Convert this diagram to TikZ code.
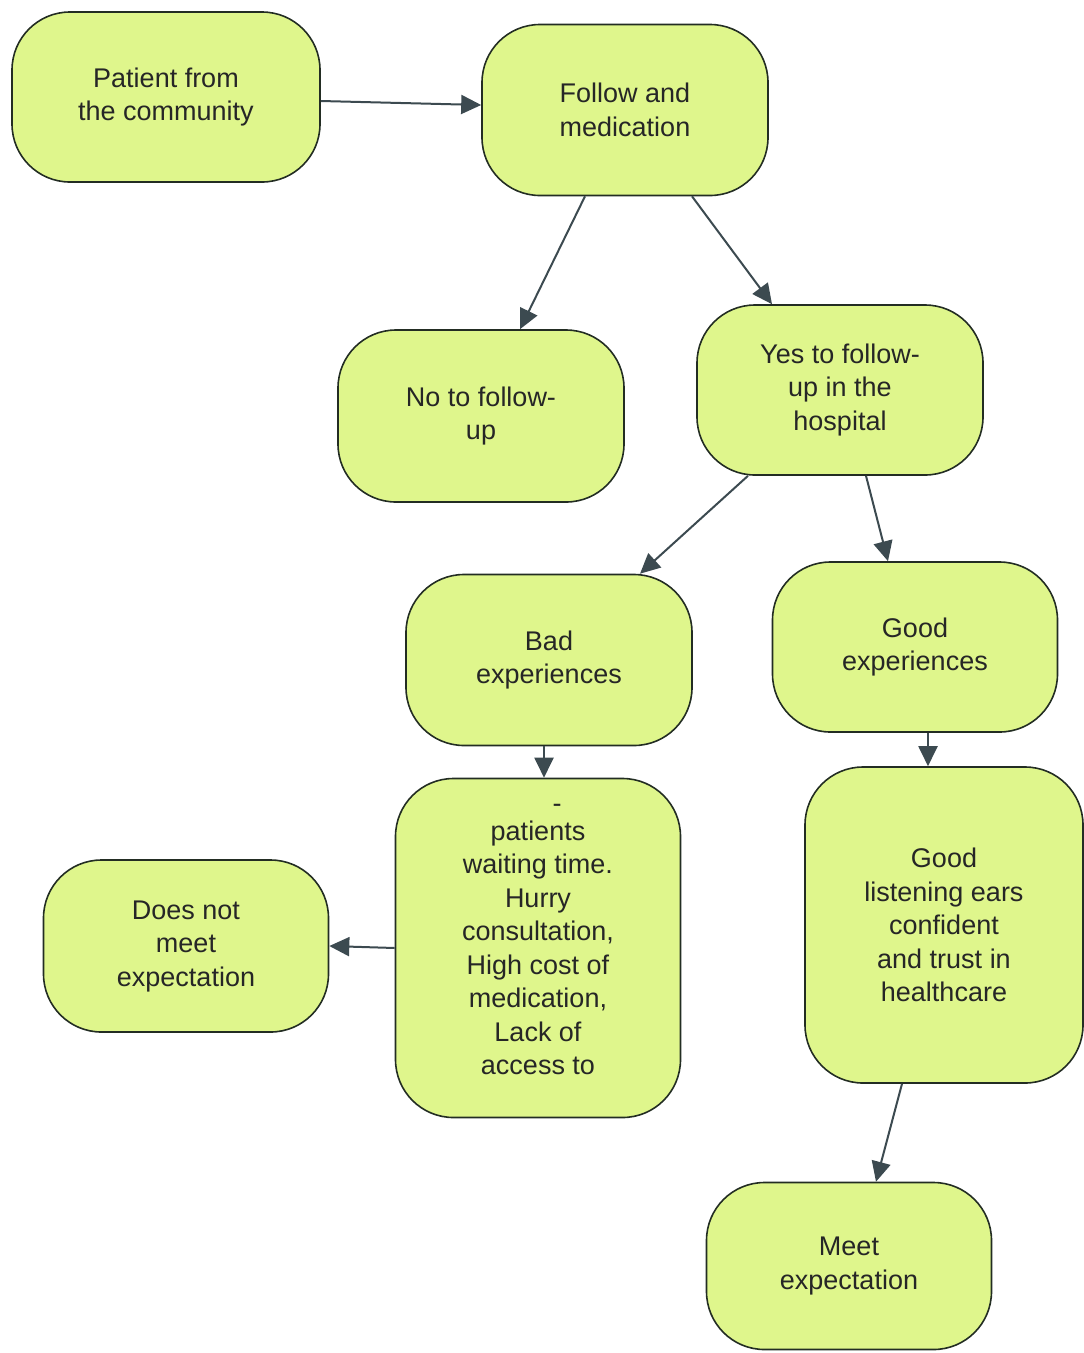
\documentclass[tikz,border=0pt]{standalone}
\usepackage{fontspec}
\setmainfont{Liberation Sans}
\usepackage{tikz}
\usetikzlibrary{arrows.meta}
\usepackage{xcolor}
\definecolor{boxfill}{RGB}{223,246,140}
\definecolor{boxline}{RGB}{35,45,35}
\definecolor{arrowgray}{RGB}{60,74,80}

\begin{document}
\begin{tikzpicture}[x=1pt,y=-1pt]

    % --- Global Settings ---
    \tikzset{
        stagebox/.style={draw=boxline, fill=boxfill, line width=1.6pt, rounded corners=58pt,
            minimum width=286pt, minimum height=171pt, inner sep=0pt, align=center,
            font=\fontsize{27}{33.5}\selectfont, text=black!85},
        flowarrow/.style={-{Triangle[length=20pt,width=19pt]}, line width=2pt, draw=arrowgray, fill=arrowgray}
    }
    \useasboundingbox (0,0) rectangle (1084,1353);

    % --- Top row ---
    \node[stagebox, minimum width=308pt, minimum height=170pt] (community) at (166,97) {Patient from\\the community};
    \node[stagebox] (follow) at (625,110) {Follow and\\medication};

    % --- Decision on follow-up ---
    \node[stagebox, minimum height=172pt] (nofollow) at (481,416) {No to follow-\\up};
    \node[stagebox, minimum height=170pt] (yesfollow) at (840,390) {Yes to follow-\\up in the\\hospital};

    % --- Experiences ---
    \node[stagebox] (bad) at (549,660) {Bad\\experiences};
    \node[stagebox, minimum width=285pt, minimum height=170pt] (good) at (915,647) {Good\\experiences};

    % --- Reasons ---
    \node[stagebox, minimum width=285pt, minimum height=339pt] (badlist) at (538,948)
        {\makebox[0pt][l]{\raisebox{28pt}[0pt][0pt]{\hspace*{62pt}-}}patients\\waiting time.\\Hurry\\consultation,\\High cost of\\medication,\\Lack of\\access to};
    \node[stagebox, minimum width=278pt, minimum height=316pt] (goodlist) at (944,925)
        {Good\\listening ears\\confident\\and trust in\\healthcare};

    % --- Outcomes ---
    \node[stagebox, minimum width=285pt, minimum height=172pt] (notmeet) at (186,946) {Does not\\meet\\expectation};
    \node[stagebox, minimum width=285pt, minimum height=167pt] (meet) at (849,1266) {Meet\\expectation};

    % --- Connectors ---
    \draw[flowarrow] ([yshift=-4pt]community.east) -- ([yshift=5pt]follow.west);
    \draw[flowarrow] ([xshift=-40pt]follow.south) -- ([xshift=39pt]nofollow.north);
    \draw[flowarrow] ([xshift=67pt]follow.south) -- ([xshift=-68pt]yesfollow.north);
    \draw[flowarrow] ([xshift=-92pt]yesfollow.south) -- ([xshift=91pt]bad.north);
    \draw[flowarrow] ([xshift=26pt]yesfollow.south) -- ([xshift=-27pt]good.north);
    \draw[flowarrow] ([xshift=-5pt]bad.south) -- ([xshift=6pt]badlist.north);
    \draw[flowarrow] ([xshift=13pt]good.south) -- ([xshift=-16pt]goodlist.north);
    \draw[flowarrow] (badlist.west) -- (notmeet.east);
    \draw[flowarrow] ([xshift=-42pt]goodlist.south) -- ([xshift=27pt]meet.north);

\end{tikzpicture}
\end{document}
